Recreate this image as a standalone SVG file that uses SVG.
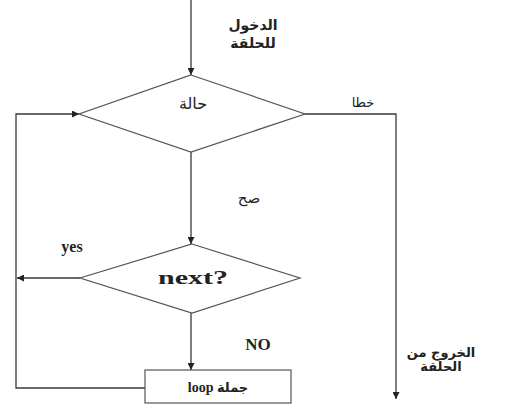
<svg xmlns="http://www.w3.org/2000/svg" width="514" height="406" viewBox="0 0 514 406">
<style>
.ln{stroke:#3a3a3a;stroke-width:1.3;fill:none}
.sh{stroke:#555;stroke-width:1.2;fill:#fff}
.ar{font-family:"DejaVu Sans",sans-serif;font-weight:bold;font-size:13px;fill:#222;text-anchor:middle}
.en{font-family:"Liberation Serif",serif;font-weight:bold;fill:#222;text-anchor:middle}
</style>
<defs>
<marker id="ah" viewBox="0 0 10 10" refX="10" refY="5" markerWidth="7" markerHeight="7" markerUnits="userSpaceOnUse" orient="auto">
<path d="M0,0 L10,5 L0,10 z" fill="#222"/>
</marker>
</defs>
<rect width="514" height="406" fill="#fff"/>
<g id="connectors">
<line class="ln" x1="191" y1="0" x2="191" y2="75" marker-end="url(#ah)"/>
<line class="ln" x1="191" y1="152" x2="191" y2="244" marker-end="url(#ah)"/>
<line class="ln" x1="191" y1="313" x2="191" y2="370" marker-end="url(#ah)"/>
<polyline class="ln" points="305,114 396,114 396,399" marker-end="url(#ah)"/>
<polyline class="ln" points="145,388 16,388 16,114 79,114" marker-end="url(#ah)"/>
<line class="ln" x1="80" y1="278" x2="17" y2="278" marker-end="url(#ah)"/>
</g>
<g id="cond">
<polygon class="sh" points="191,75 305,114 191,152 79,114"/>
<text class="ar" x="193" y="109" style="font-weight:normal;font-size:16px">حالة</text>
</g>
<g id="next">
<polygon class="sh" points="192,244 300,278 192,313 80,278"/>
<text class="en" x="193" y="284" font-size="19" textLength="70" lengthAdjust="spacingAndGlyphs">next?</text>
</g>
<g id="loop">
<rect class="sh" x="145" y="370" width="146" height="33"/>
<text class="en" x="218" y="392" font-size="14">loop <tspan style="font-family:'DejaVu Sans',sans-serif;font-size:13px">جملة</tspan></text>
</g>
<g id="labels">
<text class="ar" x="253" y="30" style="font-size:14px">الدخول</text>
<text class="ar" x="253" y="48" style="font-size:14px">للحلقة</text>
<text class="ar" x="363" y="107" style="font-weight:normal">خطا</text>
<text class="ar" x="249" y="203" style="font-weight:normal;font-size:15px">صح</text>
<text class="en" x="72" y="252" font-size="16">yes</text>
<text class="en" x="258" y="350" font-size="17">NO</text>
<text class="ar" x="441" y="357">الخروج من</text>
<text class="ar" x="441" y="371">الحلقة</text>
</g>
</svg>
